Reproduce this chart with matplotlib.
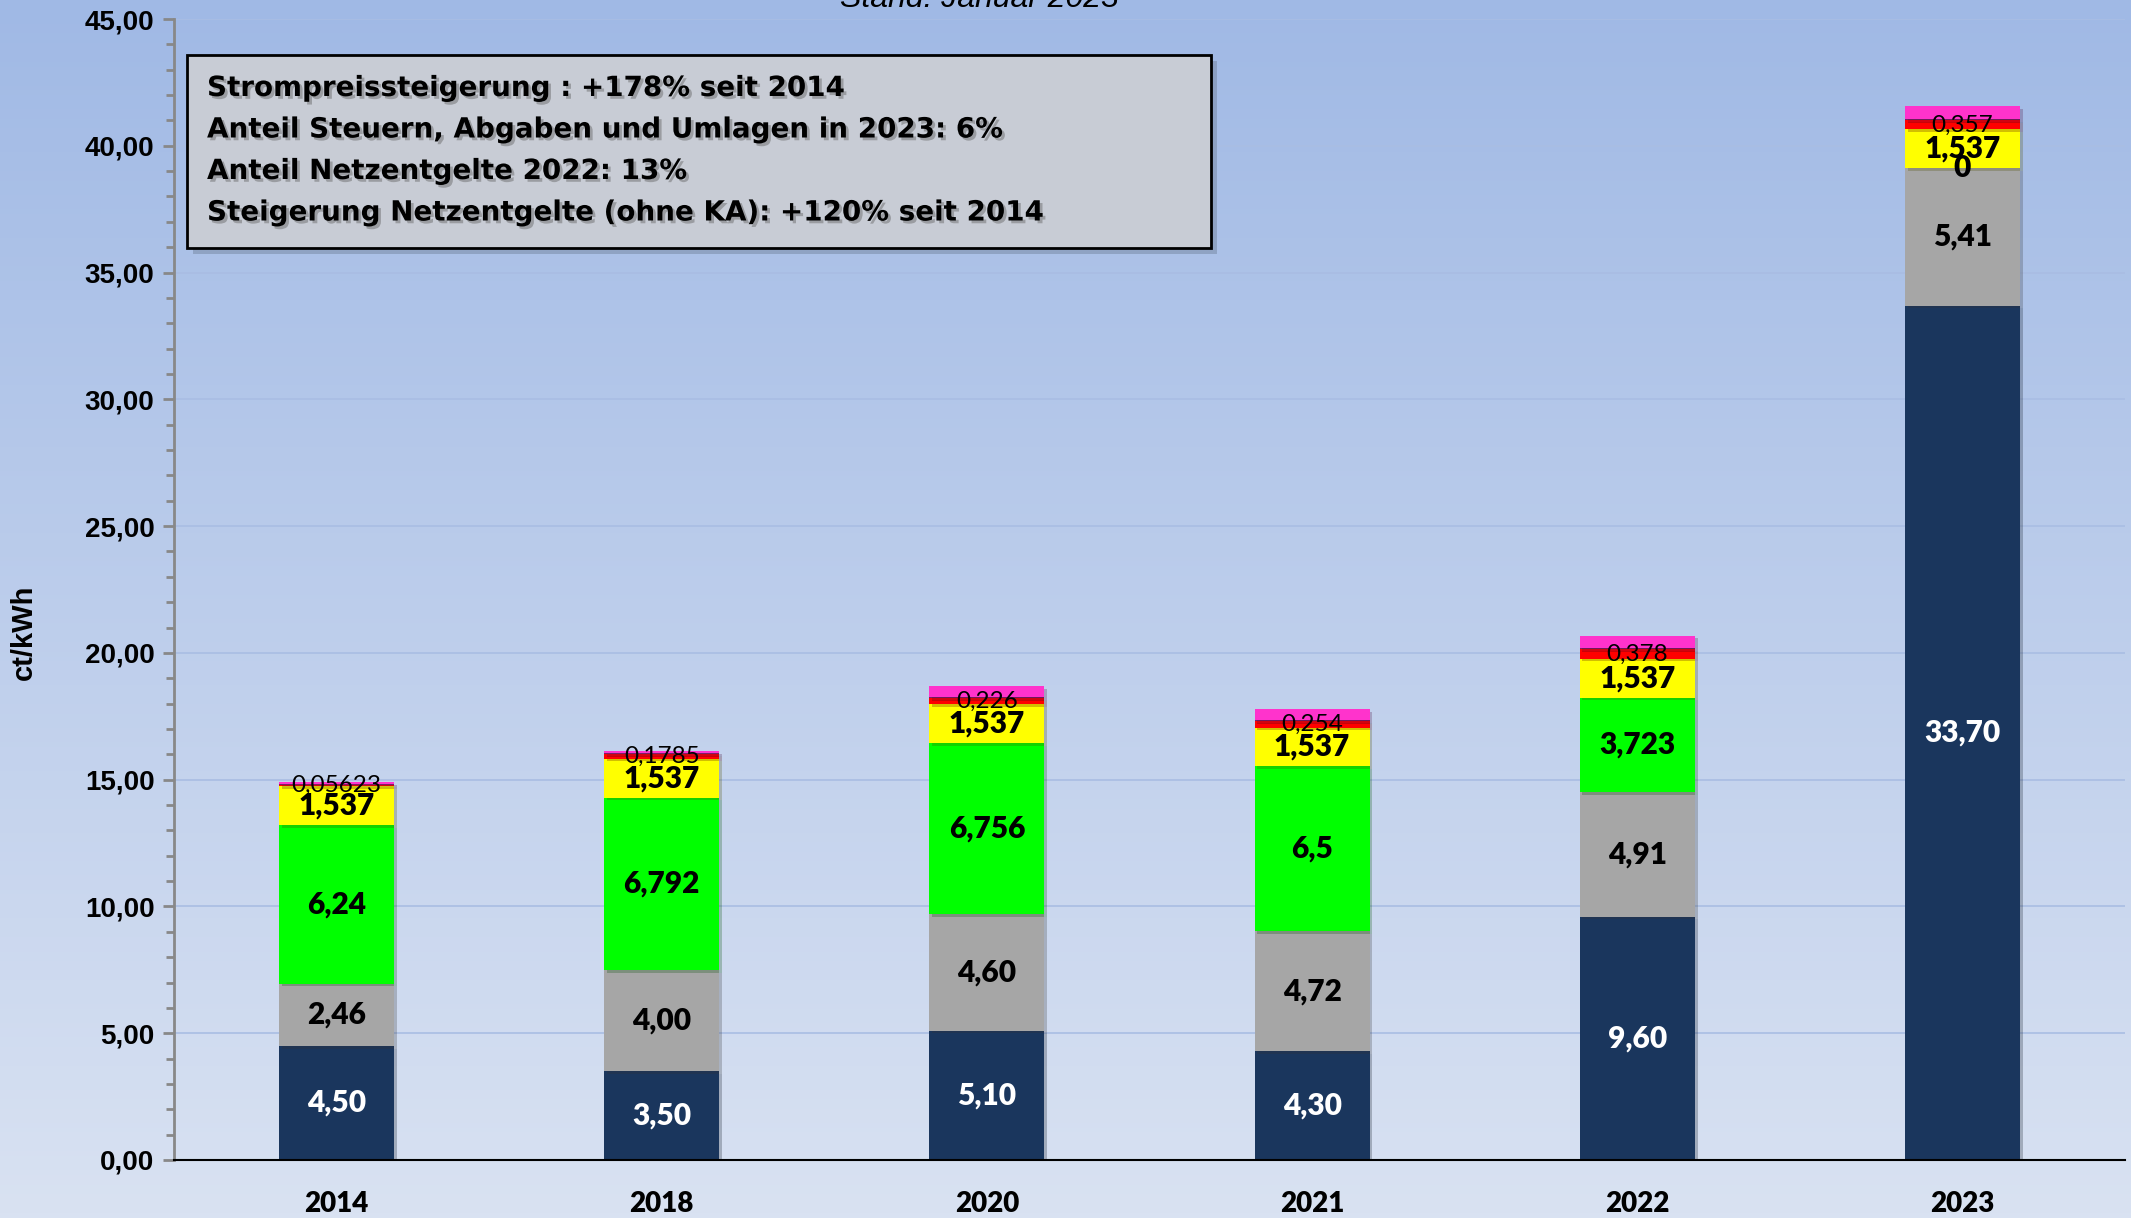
import numpy as np
import matplotlib
matplotlib.use("Agg")
import matplotlib.pyplot as plt
from matplotlib.patches import Rectangle
from matplotlib.ticker import MultipleLocator, FuncFormatter
import matplotlib.patheffects as pe

# data (ct/kWh)
years = ["2014", "2018", "2020", "2021", "2022", "2023"]
beschaffung = [4.50, 3.50, 5.10, 4.30, 9.60, 33.70]
netzentgelte = [2.46, 4.00, 4.60, 4.72, 4.91, 5.41]
eeg = [6.24, 6.792, 6.756, 6.5, 3.723, 0]
stromsteuer = [1.537, 1.537, 1.537, 1.537, 1.537, 1.537]
umlage_rot = [0.05623, 0.1785, 0.226, 0.254, 0.378, 0.357]
umlage_lila = [0.04, 0.04, 0.04, 0.04, 0.04, 0.04]
umlage_pink = [0.08, 0.09, 0.42, 0.42, 0.49, 0.53]

info_lines = [
    "Strompreissteigerung : +178% seit 2014",
    "Anteil Steuern, Abgaben und Umlagen in 2023: 6%",
    "Anteil Netzentgelte 2022: 13%",
    "Steigerung Netzentgelte (ohne KA): +120% seit 2014",
]

W, H = 2131, 1218
fig = plt.figure(figsize=(W / 100, H / 100), dpi=100)

# background gradient
bg = fig.add_axes([0, 0, 1, 1], zorder=-10)
top = np.array([160, 185, 229]) / 255
bot = np.array([217, 226, 242]) / 255
t = np.linspace(0, 1, 256)[:, None]
grad = (top * (1 - t) + bot * t)[:, None, :]
bg.imshow(grad, aspect="auto", extent=[0, 1, 0, 1])
bg.axis("off")

ax = fig.add_axes([174 / W, 1 - 1160 / H, (2125 - 174) / W, (1160 - 19) / H])
ax.patch.set_alpha(0)

x = np.arange(len(years))
wd = 0.354
series = [
    (beschaffung, "#1a365d", "white", lambda v: f"{v:.2f}".replace(".", ",")),
    (netzentgelte, "#a6a6a6", "black", lambda v: f"{v:.2f}".replace(".", ",")),
    (eeg, "#00ff00", "black", lambda v: f"{v:g}".replace(".", ",")),
    (stromsteuer, "#ffff00", "black", lambda v: f"{v:g}".replace(".", ",")),
    (umlage_rot, "#ff0000", "black", lambda v: f"{v:g}".replace(".", ",")),
    (umlage_lila, "#7a1f66", None, None),
    (umlage_pink, "#ff33cc", None, None),
]

bottom = np.zeros(len(years))
for vals, col, tcol, fmt in series:
    vals = np.array(vals, dtype=float)
    ax.bar(x, vals, wd, bottom=bottom, color=col, zorder=3,
           path_effects=[pe.SimplePatchShadow(offset=(2, -2), alpha=0.25), pe.Normal()])
    if fmt is not None:
        for xi, b, v in zip(x, bottom, vals):
            if col == "#ff0000":
                ax.text(xi, b + v / 2, fmt(v), ha="center", va="center",
                        fontsize=17.5, family="Lato", color=tcol, zorder=5)
            else:
                ax.text(xi, b + v / 2, fmt(v), ha="center", va="center",
                        fontsize=21.5, family="Lato", fontweight="heavy", color=tcol, zorder=5)
    bottom += vals

ax.set_xlim(-0.5, 5.5)
ax.set_ylim(0, 45)
ax.yaxis.set_major_locator(MultipleLocator(5))
ax.yaxis.set_minor_locator(MultipleLocator(1))
ax.yaxis.set_major_formatter(FuncFormatter(lambda v, p: f"{v:.2f}".replace(".", ",")))
ax.grid(axis="y", which="major", color="#a9bde3", lw=1.2, zorder=0)
ax.set_xticks(x)
ax.set_xticklabels(years, family="Lato", fontweight="heavy", fontsize=20)
ax.tick_params(axis="x", length=0, pad=22)
ax.tick_params(axis="y", which="major", length=8, width=2, color="#888888", pad=6)
ax.tick_params(axis="y", which="minor", length=6, width=2, color="#888888")
for lab in ax.get_yticklabels():
    lab.set_family("Liberation Sans")
    lab.set_fontweight("bold")
    lab.set_fontsize(20)
for s in ["top", "right"]:
    ax.spines[s].set_visible(False)
ax.spines["left"].set_color("#888888")
ax.spines["left"].set_linewidth(2)
ax.spines["bottom"].set_color("black")
ax.spines["bottom"].set_linewidth(1.5)
ax.spines["bottom"].set_zorder(4)

fig.text(24 / W, 1 - 632 / H, "ct/kWh", rotation=90, ha="center", va="center",
         family="Liberation Sans", fontweight="bold", fontsize=21)

fig.text(979 / W, 1 - 14 / H, "Stand: Januar 2023", ha="center", va="bottom",
         family="Liberation Sans", style="italic", fontsize=23)

# info box
bx0, bx1, by0, by1 = 187, 1211, 55, 248
shadow = Rectangle((bx0 / W + 6 / W, 1 - (by1 + 6) / H), (bx1 - bx0) / W, (by1 - by0) / H,
                   transform=fig.transFigure, facecolor="#6f7f99", alpha=0.45, lw=0, zorder=6)
box = Rectangle((bx0 / W, 1 - by1 / H), (bx1 - bx0) / W, (by1 - by0) / H,
                transform=fig.transFigure, facecolor="#c8ccd5", edgecolor="black", lw=2, zorder=7)
fig.patches.extend([shadow, box])
for i, line in enumerate(info_lines):
    fig.text(207 / W, 1 - (88 + 41.5 * i) / H, line, ha="left", va="center",
             family="DejaVu Sans", fontweight="bold", fontsize=20, zorder=8,
             path_effects=[pe.withSimplePatchShadow(offset=(2, -2), shadow_rgbFace="#555555", alpha=0.4)])

fig.savefig("out.png", dpi=100)
